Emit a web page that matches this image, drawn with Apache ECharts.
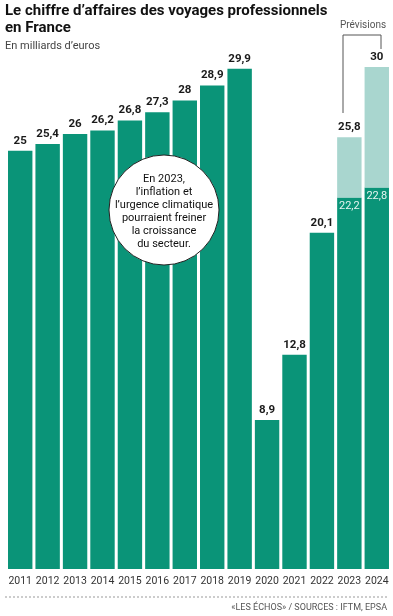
<!DOCTYPE html>
<html><head><meta charset="utf-8">
<script src="https://cdn.jsdelivr.net/npm/echarts@6/dist/echarts.min.js"></script>
<style>html,body{margin:0;padding:0;background:#fff}#c{width:393px;height:616px}</style>
</head><body><div id="c"></div>
<script>
const years = ['2011','2012','2013','2014','2015','2016','2017','2018','2019','2020','2021','2022','2023','2024'];
const actual = [25,25.4,26,26.2,26.8,27.3,28,28.9,29.9,8.9,12.8,20.1,22.2,22.8];
const totals = [null,null,null,null,null,null,null,null,null,null,null,null,25.8,30];
const forecastIdx = [12,13];

const dark = '#0a9478';
const light = '#a9d6cf';
const fmt = v => String(v).replace('.', ',');

const darkData = actual.map((v,i)=>({
  value: v,
  label: forecastIdx.includes(i)
    ? {show:true, position:'insideTop', color:'#e6f5f1', fontWeight:'normal', fontSize:11, distance:3}
    : {show:true, position:'top', color:'#1a1a1a', fontWeight:'bold', fontSize:11.5, distance:4}
}));
const lightData = totals.map((t,i)=> t==null ? '-' : {value: +(t-actual[i]).toFixed(1), total:t});

const chart = echarts.init(document.getElementById('c'), null, {renderer:'canvas'});
chart.setOption({
  animation:false,
  textStyle:{fontFamily:'Roboto, "Noto Sans", sans-serif'},
  grid:{left:6.5, right:2.5, top:67, bottom:47},
  xAxis:{type:'category', data:years, axisLine:{show:false}, axisTick:{show:false},
    axisLabel:{color:'#333', fontSize:10.5, margin:7, interval:0}},
  yAxis:{type:'value', min:0, max:30, show:false, splitLine:{show:false}},
  series:[
    {type:'bar', stack:'a', data:darkData, barCategoryGap:'11%', itemStyle:{color:dark},
     label:{formatter:p=>fmt(p.value)}},
    {type:'bar', stack:'a', data:lightData, itemStyle:{color:light},
     label:{show:true, position:'top', color:'#1a1a1a', fontWeight:'bold', fontSize:11.5, distance:4,
       formatter:p=>p.data && p.data.total ? fmt(p.data.total) : ''}}
  ],
  graphic:[
    {type:'text', left:5, top:3, style:{text:'Le chiffre d\u2019affaires des voyages professionnels\nen France',
      font:'bold 15px Roboto, sans-serif', fill:'#111', lineHeight:17}},
    {type:'text', left:5, top:41, style:{text:'En milliards d\u2019euros', font:'11px Roboto, sans-serif', fill:'#444'}},
    {type:'text', left:340, top:20, style:{text:'Pr\u00e9visions', font:'10px Roboto, sans-serif', fill:'#555'}},
    {type:'polyline', shape:{points:[[343,113],[343,35],[381,35],[381,49]]}, style:{stroke:'#555', lineWidth:1, fill:null}},
    {type:'circle', shape:{cx:164, cy:210, r:55}, style:{fill:'#fff', stroke:'#222', lineWidth:1}, z:100},
    {type:'text', x:164, y:212, z:101, style:{text:'En 2023,\nl\u2019inflation et\nl\u2019urgence climatique\npourraient freiner\nla croissance\ndu secteur.',
      font:'11px Roboto, sans-serif', fill:'#111', align:'center', verticalAlign:'middle', lineHeight:13}},
    {type:'line', shape:{x1:5, y1:597, x2:388, y2:597}, style:{stroke:'#999', lineWidth:1, lineDash:[2,2]}},
    {type:'text', right:6, top:603, style:{text:'\u00abLES \u00c9CHOS\u00bb / SOURCES : IFTM, EPSA', font:'9px Roboto, sans-serif', fill:'#555'}}
  ]
});
</script></body></html>
